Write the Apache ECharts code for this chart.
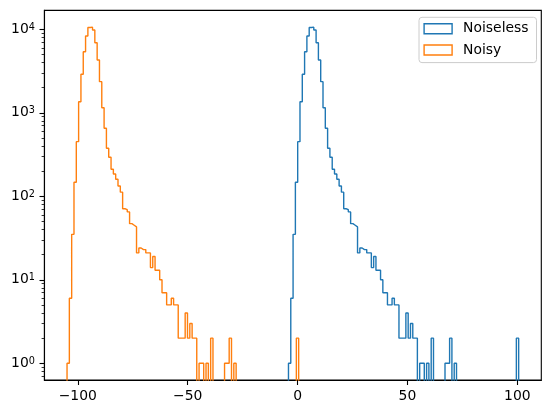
<!DOCTYPE html>
<html>
<head>
<meta charset="utf-8">
<script src="https://cdn.jsdelivr.net/npm/echarts@6/dist/echarts.min.js"></script>
<style>
  html, body { margin: 0; padding: 0; background: #fff; }
  #chart { width: 550px; height: 413px; }
</style>
</head>
<body>
<div id="chart"></div>
<script>
// counts per bin (100 bins each)
var noiselessCounts = [
  1, 6, 35, 147, 451, 1358, 2890, 5390, 8310, 10500,
  10600, 9800, 6900, 4290, 2360, 1150, 652, 376, 293, 211,
  185, 160, 133, 112, 71, 69, 65, 47, 45, 43,
  21, 24, 23, 23, 21, 21, 14, 19, 13, 13,
  10, 7, 7, 5, 5, 6, 5, 5, 2, 2,
  2, 4, 2, 3, 2, 2, 0, 1, 1, 0,
  1, 0, 2, 0, 0, 0, 0, 0, 1, 1,
  2, 0, 1, 0, 0, 0, 0, 0, 0, 0,
  0, 0, 0, 0, 0, 0, 0, 0, 0, 0,
  0, 0, 0, 0, 0, 0, 0, 0, 0, 2
];
var noisyCounts = [
  1, 6, 35, 147, 451, 1358, 2890, 5390, 8310, 10500,
  10600, 9800, 6900, 4290, 2360, 1150, 652, 376, 293, 211,
  185, 160, 133, 112, 71, 69, 65, 47, 45, 43,
  21, 24, 23, 23, 21, 21, 14, 19, 13, 13,
  10, 7, 7, 5, 5, 6, 5, 5, 2, 2,
  2, 4, 2, 3, 2, 2, 0, 1, 1, 0,
  1, 0, 2, 0, 0, 0, 0, 0, 1, 1,
  2, 0, 1, 0, 0, 0, 0, 0, 0, 0,
  0, 0, 0, 0, 0, 0, 0, 0, 0, 0,
  0, 0, 0, 0, 0, 0, 0, 0, 0, 2
];
// histogram ranges (first edge, last edge)
var noiselessRange = [-4.14, 100.6];
var noisyRange = [-104.9, 0.5];

var seriesNames = ['Noiseless', 'Noisy'];
var colors = ['#1f77b4', '#ff7f0e'];
var xTicks = [-100, -50, 0, 50, 100];
var yTicks = [1, 10, 100, 1000, 10000];
var yMinorTicks = [0.7, 0.8, 0.9, 2, 3, 4, 5, 6, 7, 8, 9,
  20, 30, 40, 50, 60, 70, 80, 90, 200, 300, 400, 500, 600, 700, 800, 900,
  2000, 3000, 4000, 5000, 6000, 7000, 8000, 9000];

// empty bins go below the log axis and get clipped
var FLOOR = 0.1;

// step outline like histtype='step'
function stepPoints(counts, range) {
  var n = counts.length;
  var w = (range[1] - range[0]) / n;
  var pts = [[range[0], FLOOR]];
  for (var i = 0; i < n; i++) {
    var c = counts[i] > 0 ? counts[i] : FLOOR;
    pts.push([range[0] + i * w, c]);
    pts.push([range[0] + (i + 1) * w, c]);
  }
  pts.push([range[1], FLOOR]);
  return pts;
}

function minus(v) {
  return v < 0 ? '\u2212' + (-v) : String(v);
}

var font = 'DejaVu Sans';
var chart = echarts.init(document.getElementById('chart'));

chart.setOption({
  animation: false,
  textStyle: { fontFamily: font },
  grid: {
    left: 44.4, right: 8.7, top: 10.4, bottom: 32.9,
    show: true, borderColor: '#000', borderWidth: 1.1, backgroundColor: 'transparent'
  },
  legend: {
    left: 419, top: 17.3,
    orient: 'vertical',
    icon: 'rect',
    itemWidth: 28, itemHeight: 10,
    itemGap: 7.3,
    padding: [4.4, 8, 5.6, 4.4],
    borderColor: '#cccccc', borderWidth: 1, borderRadius: 3,
    backgroundColor: 'rgba(255,255,255,0.8)',
    textStyle: { fontFamily: font, fontSize: 13.9, color: '#000', lineHeight: 14, padding: [0, 0, 0, 6] },
    data: seriesNames.map(function (n, i) {
      return { name: n, itemStyle: { color: 'transparent', borderColor: colors[i], borderWidth: 1.4 } };
    })
  },
  xAxis: {
    type: 'value',
    min: -115.2, max: 110.9,
    axisLine: { show: true, onZero: false, lineStyle: { color: '#000', width: 1.1 } },
    axisTick: { show: true, customValues: xTicks, length: 4.9, lineStyle: { color: '#000', width: 1.1 } },
    axisLabel: {
      customValues: xTicks, formatter: minus, margin: 9.5,
      fontFamily: font, fontSize: 13.9, color: '#000'
    },
    splitLine: { show: false }
  },
  yAxis: [{
    type: 'log',
    min: 0.629, max: 16830,
    axisLine: { show: true, onZero: false, lineStyle: { color: '#000', width: 1.1 } },
    axisTick: { show: true, customValues: yTicks, length: 4.9, lineStyle: { color: '#000', width: 1.1 } },
    axisLabel: {
      customValues: yTicks, margin: 9.5,
      formatter: function (v) {
        return '{b|10}{s|' + Math.round(Math.log10(v)) + '}';
      },
      rich: {
        b: { fontFamily: font, fontSize: 13.9, color: '#000', lineHeight: 14, verticalAlign: 'bottom' },
        s: { fontFamily: font, fontSize: 9.7, color: '#000', lineHeight: 10, verticalAlign: 'top', padding: [0, 0, 8, 0] }
      }
    },
    splitLine: { show: false }
  }, {
    // minor ticks
    type: 'log',
    min: 0.629, max: 16830,
    position: 'left',
    axisLine: { show: false, onZero: false },
    axisTick: { show: true, customValues: yMinorTicks, length: 2.8, lineStyle: { color: '#000', width: 0.8 } },
    axisLabel: { show: false },
    splitLine: { show: false }
  }],
  series: [
    {
      name: seriesNames[0], type: 'line',
      data: stepPoints(noiselessCounts, noiselessRange),
      showSymbol: false, symbol: 'none', clip: true,
      lineStyle: { color: colors[0], width: 1.4 },
      itemStyle: { color: colors[0] }
    },
    {
      name: seriesNames[1], type: 'line',
      data: stepPoints(noisyCounts, noisyRange),
      showSymbol: false, symbol: 'none', clip: true,
      lineStyle: { color: colors[1], width: 1.4 },
      itemStyle: { color: colors[1] }
    }
  ]
});
</script>
</body>
</html>
